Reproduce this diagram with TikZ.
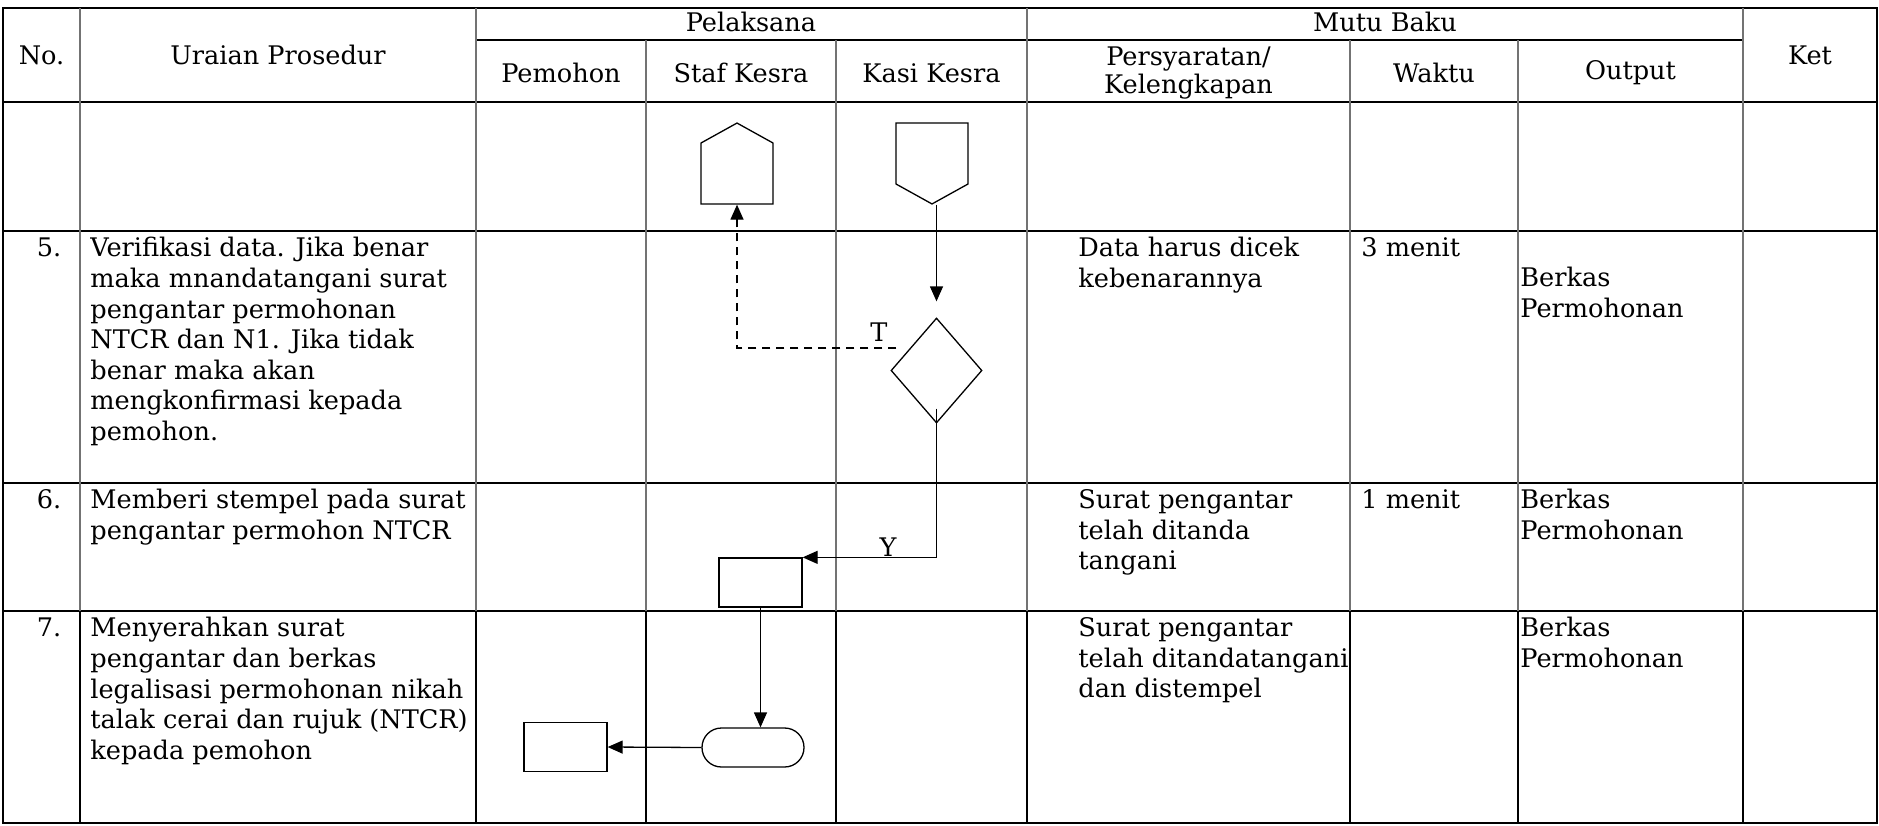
\documentclass[tikz,border=0pt]{standalone}
\usepackage{fontspec}
\setmainfont{DejaVu Serif}
\usetikzlibrary{arrows.meta,shapes.geometric,shapes.symbols}

\tikzset{
  rule/.style={line width=1pt},
  lane/.style={line width=0.6pt,black!55},
  celltext/.style={anchor=north west,inner sep=0pt,align=left,font=\fontsize{12.8}{15.3}\selectfont},
  headtext/.style={inner sep=0pt,align=center,font=\fontsize{12.8}{12.5}\selectfont},
  numtext/.style={anchor=north,inner sep=0pt,font=\fontsize{12.8}{15.3}\selectfont},
  shp/.style={draw,line width=0.65pt,inner sep=0pt},
  proc/.style={shp,rectangle,minimum width=41.5pt,minimum height=24.5pt},
  endbox/.style={shp,rectangle,rounded corners=9.7pt,minimum width=51pt,minimum height=19.5pt},
  decision/.style={shp,diamond,minimum width=45.5pt,minimum height=52.5pt},
  offpage/.style={shp,signal,signal pointer angle=122,minimum width=36pt,minimum height=30.5pt},
  arr/.style={line width=0.65pt,-{Triangle[length=7.5pt,width=6.5pt]}},
  lbl/.style={inner sep=0pt,font=\fontsize{12.8}{15.3}\selectfont},
}

\begin{document}
\begin{tikzpicture}[x=0.5pt,y=-0.5pt]
	\useasboundingbox (0,0) rectangle (1879,825);
	
	% table
	\draw[rule] (3,8) rectangle (1877,823);
	\draw[rule] (476,40) -- (1743,40);
	\foreach \y in {102,231,483,611} \draw[rule] (3,\y) -- (1877,\y);
	\foreach \x in {80,476,1027,1743} \draw[lane] (\x,8) -- (\x,611);
	\foreach \x in {646,836,1350,1518} \draw[lane] (\x,40) -- (\x,611);
	\foreach \x in {80,476,646,836,1027,1350,1518,1743} \draw[rule] (\x,611) -- (\x,823);
	
	% header
	\node[headtext] (hno) at (41.5,55) {No.};
	\node[headtext] (huraian) at (278,55) {Uraian Prosedur};
	\node[headtext] (hpelaksana) at (751,22) {Pelaksana};
	\node[headtext] (hmutu) at (1385,22) {Mutu Baku};
	\node[headtext] (hket) at (1810,55) {Ket};
	\node[headtext] (hpemohon) at (561,73) {Pemohon};
	\node[headtext] (hstaf) at (741,73) {Staf Kesra};
	\node[headtext] (hkasi) at (931.5,73) {Kasi Kesra};
	\node[headtext] (hsyarat) at (1188.5,73) {Persyaratan/\\Kelengkapan};
	\node[headtext] (hwaktu) at (1434,73) {Waktu};
	\node[headtext] (houtput) at (1630.5,73) {Output};
	
	% rows
	\node[numtext] (no5) at (49,237) {5.};
	\node[celltext] (uraian5) at (90,237) {Verifikasi data. Jika benar\\maka mnandatangani surat\\pengantar permohonan\\NTCR dan N1. Jika tidak\\benar maka akan\\mengkonfirmasi kepada\\pemohon.};
	\node[celltext] (syarat5) at (1078,237) {Data harus dicek\\kebenarannya};
	\node[celltext] (waktu5) at (1361,237) {3 menit};
	\node[celltext] (output5) at (1520,267) {Berkas\\Permohonan};
	
	\node[numtext] (no6) at (49,489) {6.};
	\node[celltext] (uraian6) at (90,489) {Memberi stempel pada surat\\pengantar permohon NTCR};
	\node[celltext] (syarat6) at (1078,489) {Surat pengantar\\telah ditanda\\tangani};
	\node[celltext] (waktu6) at (1361,489) {1 menit};
	\node[celltext] (output6) at (1520,489) {Berkas\\Permohonan};
	
	\node[numtext] (no7) at (49,617) {7.};
	\node[celltext] (uraian7) at (90,617) {Menyerahkan surat\\pengantar dan berkas\\legalisasi permohonan nikah\\talak cerai dan rujuk (NTCR)\\kepada pemohon};
	\node[celltext] (syarat7) at (1078,617) {Surat pengantar\\telah ditandatangani\\dan distempel};
	\node[celltext] (output7) at (1520,617) {Berkas\\Permohonan};
	
	% flow
	\node[offpage,signal to=north] (sp) at (737,173.5) {};
	\node[offpage,signal to=south] (kk) at (932,153.5) {};
	\node[decision] (dec) at (936.5,370.5) {};
	\node[proc] (r6) at (760.5,582.5) {};
	\node[endbox] (ends) at (753,747.5) {};
	\node[proc] (r7) at (565.5,747) {};
	
	\draw[arr] (kk.south -| dec.north) -- ([yshift=8pt]dec.north);
	\draw[arr,dash pattern=on 4pt off 3pt] ([xshift=3pt,yshift=11.25pt]dec.west) -| (sp.south);
	\node[lbl] (lt) at (879,332) {T};
	\draw[arr] ([yshift=7.5pt]dec.south) |- (r6.north east);
	\node[lbl] (ly) at (888,547) {Y};
	\draw[arr] (r6.south) -- (r6.south |- ends.north);
	\draw[arr] (ends.west) -- (r7.east);
\end{tikzpicture}
\end{document}
